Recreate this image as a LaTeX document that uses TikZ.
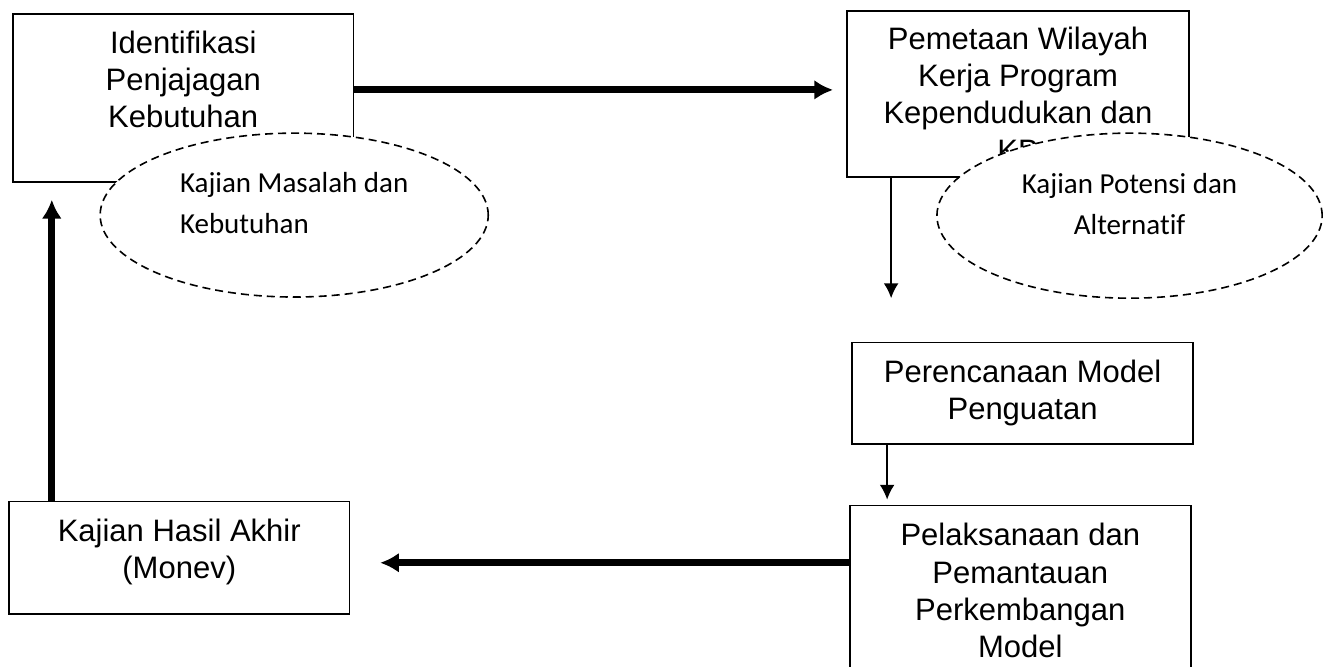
\documentclass[tikz,border=0pt]{standalone}
\usepackage{fontspec}
\setmainfont{Liberation Sans}
\newfontfamily\kajianfont[Ligatures=NoCommon]{Carlito}
\usetikzlibrary{arrows.meta, positioning, shapes.geometric}
\tikzset{
  procbox/.style={draw=black, line width=0.8pt, fill=white, align=center, inner sep=2pt, font=\fontsize{15.5}{18.7}\selectfont},
  kajian/.style={ellipse, draw=black, line width=0.8pt, dash pattern=on 4pt off 2.5pt, fill=white, inner sep=0pt, text depth=12pt, font=\kajianfont\fontsize{14.5}{20.5}\selectfont},
  bigarrow/.style={-{Latex[length=3.3mm, width=3.5mm]}, line width=3.5pt, draw=black},
  thinarrow/.style={-{Latex[length=2.6mm, width=2.6mm]}, line width=0.8pt, draw=black}
}

\begin{document}
\begin{tikzpicture}
\useasboundingbox (0,0) rectangle (23.32,11.72);

\node[procbox, minimum width=5.98cm, minimum height=2.95cm] (ident) at (3.22,10.00) {Identifikasi\\Penjajagan\\Kebutuhan\\\mbox{}};
\node[procbox, minimum width=6.01cm, minimum height=2.92cm] (peta) at (17.89,10.07) {Pemetaan Wilayah\\Kerja Program\\Kependudukan dan\\KB};
\node[procbox, minimum width=5.99cm, minimum height=1.78cm] (rencana) at (17.97,4.81) {Perencanaan Model\\Penguatan};
\node[procbox, minimum width=5.99cm, minimum height=2.99cm] (laksana) at (17.93,1.34) {Pelaksanaan dan\\Pemantauan\\Perkembangan\\Model};
\node[procbox, minimum width=5.99cm, minimum height=1.97cm, text depth=9pt] (hasil) at (3.15,1.92) {Kajian Hasil Akhir\\(Monev)};

\node[kajian, align=left, minimum width=6.82cm, minimum height=2.88cm] (masalah) at (5.17,7.94) {Kajian Masalah dan\\Kebutuhan};
\node[kajian, align=center, minimum width=6.77cm, minimum height=2.90cm] (potensi) at (19.85,7.93) {Kajian Potensi dan\\Alternatif};

\coordinate (c1) at (14.64,10.14);
\coordinate (c2) at (15.66,6.48);
\coordinate (c3) at (15.59,2.94);
\coordinate (c4) at (6.68,1.83);
\coordinate (c5) at (0.91,8.21);

\draw[bigarrow] (ident.east |- c1) -- (c1);
\draw[thinarrow] (c2 |- peta.south) -- (c2);
\draw[thinarrow] (c3 |- rencana.south) -- (c3);
\draw[bigarrow] (laksana.west |- c4) -- (c4);
\draw[bigarrow] (c5 |- hasil.north) -- (c5);
\end{tikzpicture}
\end{document}
